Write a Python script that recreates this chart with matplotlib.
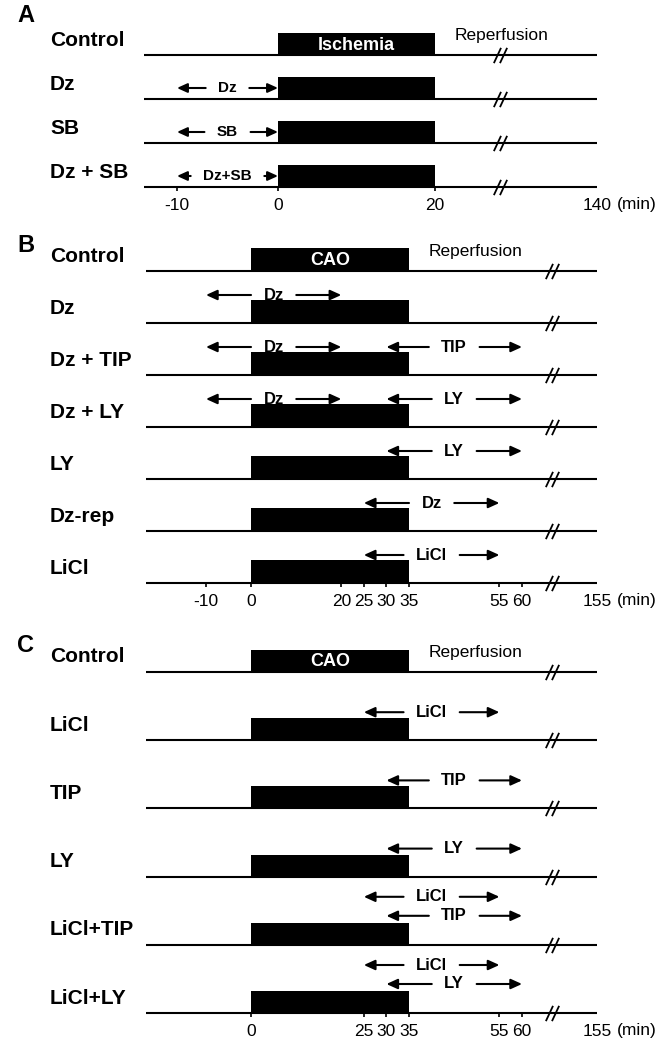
import numpy as np
import matplotlib.pyplot as plt
from matplotlib.path import Path

plt.rcParams['font.family'] = ['Liberation Sans', 'DejaVu Sans']

# ---- protocol data (minutes) ----
a_rows = ['Control', 'Dz', 'SB', 'Dz + SB']
a_arrows = [[], [('Dz', -10, 0)], [('SB', -10, 0)], [('Dz+SB', -10, 0)]]
a_ischemia = (0, 20)
a_ticks = [-10, 0, 20, 140]

b_rows = ['Control', 'Dz', 'Dz + TIP', 'Dz + LY', 'LY', 'Dz-rep', 'LiCl']
b_arrows = [[], [('Dz', -10, 20)],
            [('Dz', -10, 20), ('TIP', 30, 60)],
            [('Dz', -10, 20), ('LY', 30, 60)],
            [('LY', 30, 60)], [('Dz', 25, 55)], [('LiCl', 25, 55)]]
b_cao = (0, 35)
b_ticks = [-10, 0, 20, 25, 30, 35, 55, 60, 155]

c_rows = ['Control', 'LiCl', 'TIP', 'LY', 'LiCl+TIP', 'LiCl+LY']
c_arrows = [[], [('LiCl', 25, 55)], [('TIP', 30, 60)], [('LY', 30, 60)],
            [('LiCl', 25, 55), ('TIP', 30, 60)],
            [('LiCl', 25, 55), ('LY', 30, 60)]]
c_cao = (0, 35)
c_ticks = [0, 25, 30, 35, 55, 60, 155]

W, H = 667, 1046


def broken_axis(mins, pix):
    # piecewise linear minutes -> pixel mapping (time axis is not to scale)
    mins = np.asarray(mins, float)
    pix = np.asarray(pix, float)

    def conv(v, xs, ys):
        v = np.asarray(v, float)
        out = np.interp(v, xs, ys)
        s0 = (ys[1] - ys[0]) / (xs[1] - xs[0])
        s1 = (ys[-1] - ys[-2]) / (xs[-1] - xs[-2])
        out = np.where(v < xs[0], ys[0] + (v - xs[0]) * s0, out)
        out = np.where(v > xs[-1], ys[-1] + (v - xs[-1]) * s1, out)
        return out

    return (lambda v: conv(v, mins, pix)), (lambda v: conv(v, pix, mins))


# "//" break sign
slash = Path([(-2.6, -3), (0.2, 3), (-0.2, -3), (2.6, 3)],
             [Path.MOVETO, Path.LINETO, Path.MOVETO, Path.LINETO])

fig = plt.figure(figsize=(W / 100, H / 100), dpi=100)


def panel(letter, letter_y, rows, arrows, block, block_text, ticks,
          knots_min, knots_px, span, brk, top, step, bar_h, lift, small):
    ax = fig.add_axes([0, 0, 1, 1], label=letter)
    fwd, inv = broken_axis(knots_min, knots_px)
    ax.set_xscale('function', functions=(fwd, inv))
    ax.set_xlim(float(inv(0)), float(inv(W)))
    ax.set_ylim(H, 0)
    ax.axis('off')
    ax.patch.set_alpha(0)
    lab = ax.get_yaxis_transform()

    ax.text(17 / W, letter_y, letter, transform=lab, fontsize=17,
            fontweight='bold', va='center')
    bases = top + step * np.arange(len(rows))
    for i, (name, base) in enumerate(zip(rows, bases)):
        ax.text(50 / W, base - 15, name, transform=lab, fontsize=15,
                fontweight='bold', va='center')
        ax.hlines(base, span[0], span[1], color='k', lw=1.5)
        ax.barh(base - bar_h / 2, block[1] - block[0], left=block[0],
                height=bar_h, color='k')
        n = len(arrows[i])
        for j, (drug, a, b) in enumerate(arrows[i]):
            y = base - lift[n - 1][j]
            mid = float(inv((fwd(a) + fwd(b)) / 2))
            for k, end in enumerate([a, b]):
                ax.annotate(drug, xy=(end, y), xytext=(mid, y), ha='center',
                            va='center', fontsize=small, fontweight='bold',
                            color='k' if k == 0 else 'none',
                            arrowprops=dict(arrowstyle='-|>,head_length=0.55,head_width=0.25',
                                            color='k', lw=1.5, shrinkA=7,
                                            shrinkB=0))
    ax.plot([brk] * len(rows), bases, ls='none', marker=slash, ms=11,
            mfc='none', mec='k', mew=1.3)

    ax.text(np.mean(block), bases[0] - bar_h / 2 + 1, block_text, color='w',
            fontsize=13, fontweight='bold', ha='center', va='center')
    ax.annotate('Reperfusion', xy=(block[1], bases[0]), xytext=(14, 14),
                textcoords='offset points', fontsize=12.5, va='center')

    last = bases[-1]
    ax.vlines(ticks[:-1], last, last + 4, color='k', lw=1.2)
    for t in ticks:
        ax.text(t, last + 18, str(t), fontsize=12.5, ha='center', va='center')
    ax.annotate('(min)', xy=(ticks[-1], last + 18), xytext=(14, 0),
                textcoords='offset points', fontsize=12.5, va='center')


panel('A', 15, a_rows, a_arrows, a_ischemia, 'Ischemia', a_ticks,
      [-10, 0, 20, 140], [177, 278, 435, 597], (-13.3, 140), 68,
      55, 44, 22, [[11]], 11)
panel('B', 245, b_rows, b_arrows, b_cao, 'CAO', b_ticks,
      [-10, 0, 35, 60, 155], [206, 251, 409, 522, 597], (-23.3, 155), 98,
      271, 52, 23, [[28], [28, 28]], 12)
panel('C', 645, c_rows, c_arrows, c_cao, 'CAO', c_ticks,
      [-10, 0, 35, 60, 155], [206, 251, 409, 522, 597], (-23.3, 155), 98,
      672, 68.2, 22, [[28], [48, 29]], 12)

fig.savefig('out.png', dpi=100)
